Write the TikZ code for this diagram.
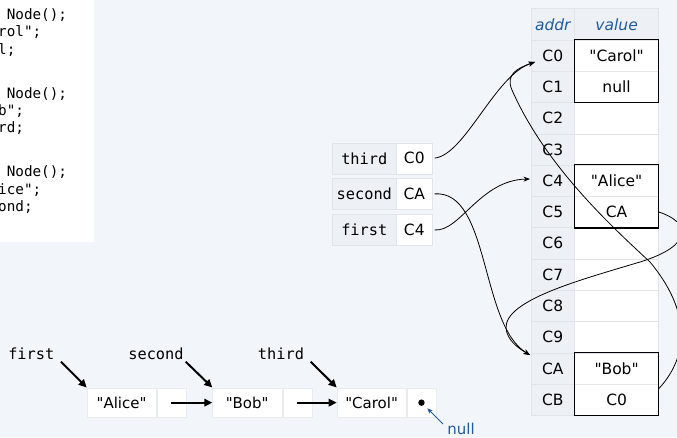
\documentclass[tikz,border=0pt]{standalone}
\usepackage{fontspec}
\setmainfont{DejaVu Sans}[Ligatures=TeXOff]
\setmonofont{DejaVu Sans Mono}
\usetikzlibrary{arrows.meta,calc}
\definecolor{bg}{HTML}{F2F5F9}
\definecolor{cellg}{HTML}{EDF0F4}
\definecolor{cellb}{HTML}{E1E5EA}
\definecolor{listb}{HTML}{E8EBEF}
\definecolor{hblue}{HTML}{1F5C9E}
\tikzset{
  codetxt/.style={font=\fontsize{14.3}{16}\selectfont\ttfamily, anchor=base west, inner sep=0pt},
  addrcell/.style={draw=cellb, fill=cellg, line width=0.6pt, minimum width=43.6pt, minimum height=31.3pt, inner sep=0pt, anchor=north west, font=\fontsize{15.5}{17}\selectfont},
  valcell/.style={draw=cellb, fill=white, line width=0.6pt, minimum width=84pt, minimum height=31.3pt, inner sep=0pt, anchor=north west, font=\fontsize{15.5}{17}\selectfont},
  lblcell/.style={draw=cellb, fill=cellg, line width=0.6pt, minimum width=64pt, minimum height=31pt, inner sep=0pt, anchor=north west, font=\fontsize{15.3}{17}\selectfont\ttfamily},
  refcell/.style={draw=cellb, fill=white, line width=0.6pt, minimum width=36pt, minimum height=31pt, inner sep=0pt, anchor=north west, font=\fontsize{15.5}{17}\selectfont},
  itemcell/.style={draw=listb, fill=white, line width=0.5pt, minimum width=69.3pt, minimum height=29.8pt, inner sep=0pt, anchor=north west, font=\fontsize{15}{17}\selectfont},
  nextcell/.style={draw=listb, fill=white, line width=0.5pt, minimum width=29pt, minimum height=29.8pt, inner sep=0pt, anchor=north west},
  varlbl/.style={font=\fontsize{15.3}{17}\selectfont\ttfamily, anchor=base, inner sep=0pt},
  ptr/.style={-{Stealth[length=6.5pt,width=5pt]}, line width=0.8pt, black},
  thickarrow/.style={-{Triangle[length=8pt,width=7.5pt]}, line width=2pt, black},
  box/.style={draw=black, line width=1.1pt}
}
\begin{document}
\begin{tikzpicture}[x=1pt,y=-1pt]
\useasboundingbox (0,0) rectangle (677,437);
\clip (0,0) rectangle (677,437);
\fill[bg] (0,0) rectangle (677,437);

% code panel
\fill[white] (0,0) rectangle (94,241.5);
\node[codetxt] (c1) at (6.6,19) {Node();};
\node[codetxt] (c2) at (-2,36.7) {rol";};
\node[codetxt] (c3) at (-2,54.3) {l;};
\node[codetxt] (c4) at (6.6,98.3) {Node();};
\node[codetxt] (c5) at (-2,115) {b";};
\node[codetxt] (c6) at (-2,132.3) {rd;};
\node[codetxt] (c7) at (6.6,176.7) {Node();};
\node[codetxt] (c8) at (-2,194.3) {ice";};
\node[codetxt] (c9) at (-2,211.7) {ond;};

% memory table
\node[addrcell] (hAddr) at (530.7,8.3) {\color{hblue}\itshape addr};
\node[addrcell, minimum width=84pt] (hVal) at (574.3,8.3) {\color{hblue}\itshape value};
\foreach \lab/\val [count=\k from 0] in {C0/"Carol",C1/null,C2/,C3/,C4/"Alice",C5/CA,C6/,C7/,C8/,C9/,CA/"Bob",CB/C0}{
  \node[addrcell] (a\lab) at (530.7,{39.6+31.3*\k}) {\lab};
  \node[valcell] (v\lab) at (574.3,{39.6+31.3*\k}) {\val};
}
\draw[box] (vC0.north west) rectangle (vC1.south east);
\draw[box] (vC4.north west) rectangle (vC5.south east);
\draw[box] (vCA.north west) rectangle (vCB.south east);

% variable table
\node[lblcell] (lthird) at (332,142.5) {third};
\node[refcell] (vthird) at (396,142.5) {C0};
\node[lblcell] (lsecond) at (332,178.2) {second};
\node[refcell] (vsecond) at (396,178.2) {CA};
\node[lblcell] (lfirst) at (332,214) {first};
\node[refcell] (vfirst) at (396,214) {C4};

% arrow targets
\coordinate (tC0) at (535,62);
\coordinate (tC4) at (530,179);
\coordinate (tCA) at (530,355);

\draw[ptr, shorten <=2pt] (vthird.east) .. controls (465,155) and (495,75) .. (tC0);
\draw[ptr, shorten <=2pt] (vfirst.east) .. controls (460,232) and (480,180) .. (tC4);
\draw[ptr, shorten <=2pt] (vsecond.east) .. controls (490,190) and (480,325) .. (tCA);
\draw[ptr] (vC5.east) .. controls (690,222) and (695,245) .. (640,262) .. controls (580,280) and (505,300) .. (506,328) .. controls (507,340) and (518,348) .. (tCA);
\draw[ptr] (vCB.15) .. controls (690,355) and (690,310) .. (650,262) .. controls (610,225) and (545,165) .. (512,90) .. controls (505,74) and (518,68) .. (tC0);

% linked list
\node[itemcell] (iAlice) at (86.7,387.5) {"Alice"};
\node[nextcell] (nAlice) at (156.7,387.5) {};
\node[itemcell] (iBob) at (212.3,387.5) {"Bob"};
\node[nextcell] (nBob) at (282.7,387.5) {};
\node[itemcell] (iCarol) at (336.7,387.5) {"Carol"};
\node[nextcell] (nCarol) at (406.7,387.5) {};
\fill (nCarol.center) circle (3.2pt);

\node[varlbl] (pfirst) at (31.3,359) {first};
\node[varlbl] (psecond) at (156,359) {second};
\node[varlbl] (pthird) at (281,359) {third};
\coordinate (sfirst) at (61,361.7);
\coordinate (ssecond) at (185.7,361.7);
\coordinate (sthird) at (310.7,361.7);
\draw[thickarrow] (sfirst) -- (iAlice.north west);
\draw[thickarrow] (ssecond) -- (iBob.north west);
\draw[thickarrow] (sthird) -- (iCarol.north west);
\draw[thickarrow] (nAlice.center) -- (iBob.west);
\draw[thickarrow] (nBob.center) -- (iCarol.west);

\node[text=hblue, font=\fontsize{15}{17}\selectfont, inner sep=0pt] (nulllbl) at (461,429) {null};
\draw[hblue, line width=0.8pt, -{Stealth[length=5.5pt,width=4.5pt]}] (443,424) -- (427.3,408.3);
\end{tikzpicture}
\end{document}
